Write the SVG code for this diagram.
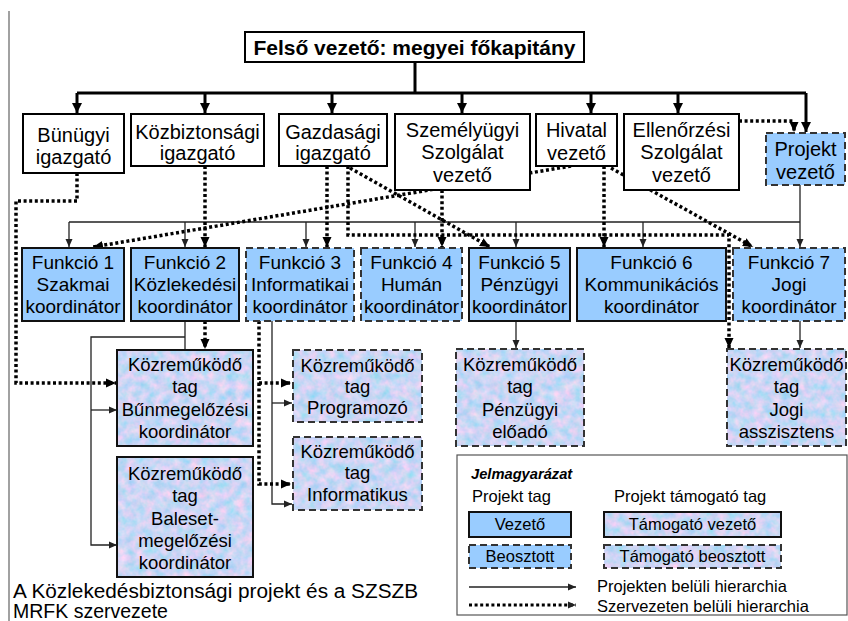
<svg xmlns="http://www.w3.org/2000/svg" width="848" height="621" viewBox="0 0 848 621">
  <defs>
    <style>
      text { font-family: "Liberation Sans", Arial, sans-serif; fill: #000; text-anchor: middle; }
      .t20 { font-size: 20px; }
      .t19 { font-size: 19px; }
      .t18 { font-size: 18.5px; }
      .lg { font-size: 16.5px; }
      .plain { fill: #fff; stroke: #000; stroke-width: 2; }
      .blue { fill: #99ccff; }
      .solid { fill: none; stroke: #111; stroke-width: 2; }
      .dash { fill: none; stroke: #333; stroke-width: 2; stroke-dasharray: 7 4; }
      .tex { fill: #c8d6f4; filter: url(#mottle); }
      .thick { fill: none; stroke: #000; stroke-width: 3; }
      .thin { fill: none; stroke: #222; stroke-width: 1.3; }
      .dot { fill: none; stroke: #000; stroke-width: 3.5; stroke-dasharray: 3 2.6; }
    </style>
    <!-- soft bluish/pink mottled paper fill for support members -->
    <filter id="mottle" x="0" y="0" width="100%" height="100%" color-interpolation-filters="sRGB">
      <feTurbulence type="fractalNoise" baseFrequency="0.11" numOctaves="3" seed="7" result="n"/>
      <feColorMatrix in="n" type="matrix" values="0.55 0 0 0 0.52  0 0.1 0 0 0.79  0 0 0.06 0 0.93  0 0 0 0 1" result="c"/>
      <feComposite in="c" in2="SourceGraphic" operator="in"/>
    </filter>
    <marker id="ahBig" markerUnits="userSpaceOnUse" markerWidth="12" markerHeight="12" refX="10" refY="5" orient="auto">
      <path d="M0,0 L10,5 L0,10 Z" fill="#000"/>
    </marker>
    <marker id="ahDot" markerUnits="userSpaceOnUse" markerWidth="12" markerHeight="12" refX="10" refY="5" orient="auto">
      <path d="M0,0.5 L10,5 L0,9.5 Z" fill="#000"/>
    </marker>
    <marker id="ahThin" markerUnits="userSpaceOnUse" markerWidth="10" markerHeight="10" refX="8" refY="4" orient="auto">
      <path d="M0,0.5 L8,4 L0,7.5 Z" fill="#222"/>
    </marker>
  </defs>

  <rect width="848" height="621" fill="#fff"/>
  <!-- page margin rule -->
  <line x1="9" y1="11" x2="9" y2="621" stroke="#8a8a8a" stroke-width="1.6"/>

  <!-- connectors -->
  <g id="connectors">
    <!-- line management from the chief -->
    <path class="thick" d="M415,62 V93 M77,93 H806"/>
    <path class="thick" marker-end="url(#ahBig)" d="M77,93 V113"/>
    <path class="thick" marker-end="url(#ahBig)" d="M205,93 V113"/>
    <path class="thick" marker-end="url(#ahBig)" d="M332,93 V113"/>
    <path class="thick" marker-end="url(#ahBig)" d="M462,93 V113"/>
    <path class="thick" marker-end="url(#ahBig)" d="M591,93 V113"/>
    <path class="thick" marker-end="url(#ahBig)" d="M678,93 V113"/>
    <path class="thick" marker-end="url(#ahBig)" d="M806,93 V132"/>

    <!-- project hierarchy (thin) -->
    <path class="thin" d="M800,185 V222 M69,222 H800"/>
    <path class="thin" marker-end="url(#ahThin)" d="M69,222 V247"/>
    <path class="thin" marker-end="url(#ahThin)" d="M185,222 V247"/>
    <path class="thin" marker-end="url(#ahThin)" d="M306,222 V247"/>
    <path class="thin" marker-end="url(#ahThin)" d="M415,222 V247"/>
    <path class="thin" marker-end="url(#ahThin)" d="M516,222 V247"/>
    <path class="thin" marker-end="url(#ahThin)" d="M643,222 V247"/>
    <path class="thin" marker-end="url(#ahThin)" d="M800,222 V247"/>
    <path class="thin" d="M185,321 V350 M185,337 H91 V410"/>
    <path class="thin" marker-end="url(#ahThin)" d="M91,410 H117"/>
    <path class="thin" marker-end="url(#ahThin)" d="M91,410 V545 H117"/>
    <path class="thin" d="M272,321 V403"/>
    <path class="thin" marker-end="url(#ahThin)" d="M272,403 H292"/>
    <path class="thin" marker-end="url(#ahThin)" d="M272,403 V504 H292"/>
    <path class="thin" marker-end="url(#ahThin)" d="M516,321 V348"/>
    <path class="thin" marker-end="url(#ahThin)" d="M800,321 V348"/>

    <!-- organisational hierarchy (dotted) -->
    <path class="dot" marker-end="url(#ahDot)" d="M77,173 V201 H16 V383 H116"/>
    <path class="dot" marker-end="url(#ahDot)" d="M205,166 V247"/>
    <path class="dot" marker-end="url(#ahDot)" d="M205,321 V349"/>
    <path class="dot" marker-end="url(#ahDot)" d="M327,166 V247"/>
    <path class="dot" marker-end="url(#ahDot)" d="M348,166 V235 H729 V348"/>
    <path class="dot" marker-end="url(#ahDot)" d="M350,168 L490,247"/>
    <path class="dot" marker-end="url(#ahDot)" d="M442,190 V247"/>
    <path class="dot" marker-end="url(#ahDot)" d="M571,166 L93,247"/>
    <path class="dot" marker-end="url(#ahDot)" d="M604,166 V247"/>
    <path class="dot" marker-end="url(#ahDot)" d="M611,168 L753,247"/>
    <path class="dot" marker-end="url(#ahDot)" d="M739,121 H794 V132"/>
    <path class="dot" d="M259,321 V383"/>
    <path class="dot" marker-end="url(#ahDot)" d="M259,383 H291"/>
    <path class="dot" marker-end="url(#ahDot)" d="M259,383 V484 H291"/>
  </g>

  <!-- top -->
  <g id="chief">
    <rect class="plain" x="245" y="32" width="339" height="30"/>
    <text x="414.5" y="55" style="font-size:21px;font-weight:bold">Felső vezető: megyei főkapitány</text>
  </g>

  <!-- directors -->
  <g id="bunugyi">
    <rect class="plain" x="23" y="114" width="101" height="59"/>
    <text class="t20" x="73.5" y="142">Bünügyi</text>
    <text class="t20" x="73.5" y="164">igazgató</text>
  </g>
  <g id="kozbiztonsagi">
    <rect class="plain" x="131" y="114" width="133" height="52"/>
    <text class="t20" x="197.5" y="139">Közbiztonsági</text>
    <text class="t20" x="197.5" y="160">igazgató</text>
  </g>
  <g id="gazdasagi">
    <rect class="plain" x="279" y="114" width="108" height="52"/>
    <text class="t20" x="333" y="139">Gazdasági</text>
    <text class="t20" x="333" y="160">igazgató</text>
  </g>
  <g id="szemelyugyi">
    <rect class="plain" x="395" y="114" width="135" height="76"/>
    <text class="t20" x="462.5" y="137">Személyügyi</text>
    <text class="t20" x="462.5" y="159">Szolgálat</text>
    <text class="t20" x="462.5" y="182">vezető</text>
  </g>
  <g id="hivatal">
    <rect class="plain" x="536" y="114" width="81" height="52"/>
    <text class="t20" x="576.5" y="137">Hivatal</text>
    <text class="t20" x="576.5" y="160">vezető</text>
  </g>
  <g id="ellenorzesi">
    <rect class="plain" x="624" y="114" width="115" height="76"/>
    <text class="t20" x="681.5" y="137">Ellenőrzési</text>
    <text class="t20" x="681.5" y="159">Szolgálat</text>
    <text class="t20" x="681.5" y="182">vezető</text>
  </g>
  <g id="projektvezeto">
    <rect class="blue" x="766" y="133" width="79" height="52"/>
    <rect class="dash" x="766" y="133" width="79" height="52"/>
    <text class="t20" x="805.5" y="156">Projekt</text>
    <text class="t20" x="805.5" y="179">vezető</text>
  </g>

  <!-- function coordinators -->
  <g id="funkcio1">
    <rect class="blue" x="22" y="248" width="102" height="73"/>
    <rect class="solid" x="22" y="248" width="102" height="73"/>
    <text class="t19" x="73" y="269">Funkció 1</text>
    <text class="t19" x="73" y="291">Szakmai</text>
    <text class="t19" x="73" y="313">koordinátor</text>
  </g>
  <g id="funkcio2">
    <rect class="blue" x="131" y="248" width="108" height="73"/>
    <rect class="solid" x="131" y="248" width="108" height="73"/>
    <text class="t19" x="185" y="269">Funkció 2</text>
    <text class="t19" x="185" y="291">Közlekedési</text>
    <text class="t19" x="185" y="313">koordinátor</text>
  </g>
  <g id="funkcio3">
    <rect class="blue" x="246" y="248" width="108" height="73"/>
    <rect class="dash" x="246" y="248" width="108" height="73"/>
    <text class="t19" x="300" y="269">Funkció 3</text>
    <text class="t19" x="300" y="291">Informatikai</text>
    <text class="t19" x="300" y="313">koordinátor</text>
  </g>
  <g id="funkcio4">
    <rect class="blue" x="361" y="248" width="101" height="73"/>
    <rect class="dash" x="361" y="248" width="101" height="73"/>
    <text class="t19" x="411.5" y="269">Funkció 4</text>
    <text class="t19" x="411.5" y="291">Humán</text>
    <text class="t19" x="411.5" y="313">koordinátor</text>
  </g>
  <g id="funkcio5">
    <rect class="blue" x="469" y="248" width="101" height="73"/>
    <rect class="solid" x="469" y="248" width="101" height="73"/>
    <text class="t19" x="519.5" y="269">Funkció 5</text>
    <text class="t19" x="519.5" y="291">Pénzügyi</text>
    <text class="t19" x="519.5" y="313">koordinátor</text>
  </g>
  <g id="funkcio6">
    <rect class="blue" x="577" y="248" width="149" height="73"/>
    <rect class="solid" x="577" y="248" width="149" height="73"/>
    <text class="t19" x="651.5" y="269">Funkció 6</text>
    <text class="t19" x="651.5" y="291">Kommunikációs</text>
    <text class="t19" x="651.5" y="313">koordinátor</text>
  </g>
  <g id="funkcio7">
    <rect class="blue" x="733" y="248" width="112" height="73"/>
    <rect class="dash" x="733" y="248" width="112" height="73"/>
    <text class="t19" x="789" y="269">Funkció 7</text>
    <text class="t19" x="789" y="291">Jogi</text>
    <text class="t19" x="789" y="313">koordinátor</text>
  </g>

  <!-- contributing members -->
  <g id="bunmegelozesi">
    <rect class="tex" x="117" y="350" width="136" height="96"/>
    <rect class="solid" x="117" y="350" width="136" height="96"/>
    <text class="t18" x="185" y="371">Közreműködő</text>
    <text class="t18" x="185" y="393">tag</text>
    <text class="t18" x="185" y="416">Bűnmegelőzési</text>
    <text class="t18" x="185" y="438">koordinátor</text>
  </g>
  <g id="baleset">
    <rect class="tex" x="117" y="457" width="136" height="120"/>
    <rect class="solid" x="117" y="457" width="136" height="120"/>
    <text class="t18" x="185" y="480">Közreműködő</text>
    <text class="t18" x="185" y="502">tag</text>
    <text class="t18" x="185" y="525">Baleset-</text>
    <text class="t18" x="185" y="547">megelőzési</text>
    <text class="t18" x="185" y="569">koordinátor</text>
  </g>
  <g id="programozo">
    <rect class="tex" x="293" y="350" width="129" height="72"/>
    <rect class="dash" x="293" y="350" width="129" height="72"/>
    <text class="t18" x="357.5" y="372">Közreműködő</text>
    <text class="t18" x="357.5" y="393">tag</text>
    <text class="t18" x="357.5" y="414">Programozó</text>
  </g>
  <g id="informatikus">
    <rect class="tex" x="293" y="437" width="129" height="73"/>
    <rect class="dash" x="293" y="437" width="129" height="73"/>
    <text class="t18" x="357.5" y="458">Közreműködő</text>
    <text class="t18" x="357.5" y="479">tag</text>
    <text class="t18" x="357.5" y="501">Informatikus</text>
  </g>
  <g id="penzugyi">
    <rect class="tex" x="456" y="349" width="128" height="97"/>
    <rect class="dash" x="456" y="349" width="128" height="97"/>
    <text class="t18" x="520" y="371">Közreműködő</text>
    <text class="t18" x="520" y="393">tag</text>
    <text class="t18" x="520" y="416">Pénzügyi</text>
    <text class="t18" x="520" y="438">előadó</text>
  </g>
  <g id="jogi">
    <rect class="tex" x="727" y="349" width="119" height="97"/>
    <rect class="dash" x="727" y="349" width="119" height="97"/>
    <text class="t18" x="786.5" y="371">Közreműködő</text>
    <text class="t18" x="786.5" y="393">tag</text>
    <text class="t18" x="786.5" y="416">Jogi</text>
    <text class="t18" x="786.5" y="438">asszisztens</text>
  </g>

  <!-- key -->
  <g id="legend">
    <rect x="457" y="455" width="390" height="160" fill="#fff" stroke="#555" stroke-width="1.2"/>
    <text x="471" y="479" style="font-size:14.7px;font-weight:bold;font-style:italic;text-anchor:start">Jelmagyarázat</text>
    <text class="lg" x="472" y="502" style="text-anchor:start">Projekt tag</text>
    <text class="lg" x="614" y="502" style="text-anchor:start">Projekt támogató tag</text>
    <rect class="blue" x="469" y="512" width="102" height="25"/>
    <rect class="solid" x="469" y="512" width="102" height="25"/>
    <text class="lg" x="520" y="530">Vezető</text>
    <rect class="tex" x="604" y="512" width="177" height="25"/>
    <rect class="solid" x="604" y="512" width="177" height="25"/>
    <text class="lg" x="692.5" y="530">Támogató vezető</text>
    <rect class="blue" x="469" y="545" width="102" height="23"/>
    <rect class="dash" x="469" y="545" width="102" height="23"/>
    <text class="lg" x="520" y="562">Beosztott</text>
    <rect class="tex" x="604" y="545" width="177" height="23"/>
    <rect class="dash" x="604" y="545" width="177" height="23"/>
    <text class="lg" x="692.5" y="562">Támogató beosztott</text>
    <path class="thin" marker-end="url(#ahThin)" d="M469,587 H576"/>
    <text class="lg" x="597" y="592" style="text-anchor:start">Projekten belüli hierarchia</text>
    <path class="dot" style="stroke-width:3" marker-end="url(#ahThin)" d="M469,605 H576"/>
    <text class="lg" x="597" y="612" style="text-anchor:start">Szervezeten belüli hierarchia</text>
  </g>

  <!-- caption -->
  <text x="13" y="598" style="font-size:19.5px;text-anchor:start" textLength="405" lengthAdjust="spacingAndGlyphs">A Közlekedésbiztonsági projekt és a SZSZB</text>
  <text x="13" y="618" style="font-size:19.5px;text-anchor:start">MRFK szervezete</text>
</svg>
